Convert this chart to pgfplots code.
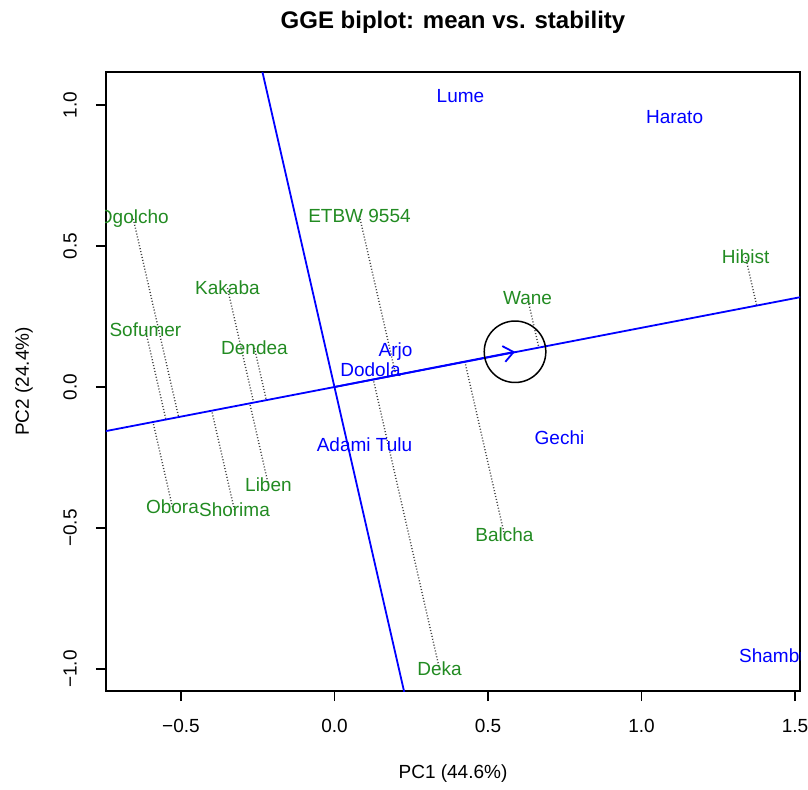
\documentclass[border=0pt]{standalone}
\usepackage{pgfplots}
\pgfplotsset{compat=1.18}
\usepackage{fontspec}
\setmainfont{Liberation Sans}
\usetikzlibrary{arrows.meta}
\definecolor{gen}{RGB}{34,139,34}
\definecolor{env}{RGB}{0,0,255}

\begin{document}
\begin{tikzpicture}
\begin{axis}[
  scale only axis, width=347pt, height=309.5pt,
  xmin=-0.744, xmax=1.516, ymin=-1.078, ymax=1.117,
  axis line style={line width=0.75pt},
  tick align=outside, xtick pos=bottom, ytick pos=left,
  major tick length=5pt,
  tick style={black, line width=0.6pt},
  xtick={-0.5,0,0.5,1,1.5}, xticklabels={−0.5,0.0,0.5,1.0,1.5},
  ytick={-1,-0.5,0,0.5,1}, yticklabels={−1.0,−0.5,0.0,0.5,1.0},
  ticklabel style={font=\fontsize{9.5}{11}\selectfont},
  yticklabel style={rotate=90, anchor=south},
  xticklabel shift=5.5pt, yticklabel shift=6pt,
  xlabel={PC1 (44.6\%)}, ylabel={PC2 (24.4\%)},
  label style={font=\fontsize{9.5}{11}\selectfont},
  xlabel style={at={([yshift=-41.5pt]axis description cs:0.5,0)}, anchor=center},
  ylabel style={at={([xshift=-41pt]axis description cs:0,0.5)}, anchor=center},
  title={GGE biplot: mean vs. stability},
  title style={at={(axis description cs:0.5,1)}, anchor=center, yshift=19pt, font=\bfseries\fontsize{12}{14}\selectfont},
  clip marker paths=true,
  unbounded coords=jump,
]
% projections of genotypes on the mean axis
\addplot[black!75, line width=0.7pt, dash pattern=on 0.5pt off 1pt] coordinates {
 (-0.655,0.596) (-0.50747,-0.10657) (nan,nan)
 (0.0814,0.606) (0.19985,0.04197) (nan,nan)
 (-0.3485,0.351) (-0.26318,-0.05527) (nan,nan)
 (-0.6156,0.2021) (-0.54896,-0.11528) (nan,nan)
 (-0.2606,0.1383) (-0.22178,-0.04657) (nan,nan)
 (0.6287,0.3156) (0.66563,0.13978) (nan,nan)
 (1.3388,0.4610) (1.37499,0.28875) (nan,nan)
 (-0.2150,-0.3475) (-0.27582,-0.05792) (nan,nan)
 (-0.5277,-0.4255) (-0.59101,-0.12411) (nan,nan)
 (-0.3257,-0.4362) (-0.39969,-0.08393) (nan,nan)
 (0.5537,-0.5248) (0.42478,0.08920) (nan,nan)
 (0.3420,-1.0) (0.12642,0.02655)
};
% mean axis and its perpendicular
\addplot[env, line width=0.9pt] coordinates {(-0.76,-0.1596) (1.53,0.3213)};
\addplot[env, line width=0.9pt] coordinates {(-0.252,1.2) (0.252,-1.2)};
\addplot[env, line width=0.9pt, -{Straight Barb[length=5pt,width=8pt]}] coordinates {(0,0) (0.588,0.125)};
\draw[black, line width=0.75pt] (axis cs:0.588,0.125) ellipse [x radius=0.1003, y radius=0.109];
% genotype labels
\addplot[only marks, mark=*, mark size=0pt, mark options={draw=none, fill=none},
  nodes near coords={\pgfplotspointmeta}, point meta=explicit symbolic,
  every node near coord/.append style={anchor=center, inner sep=0pt, text=gen, font=\fontsize{9.5}{11}\selectfont}]
  table[col sep=comma, meta=label] {
x,y,label
-0.655,0.596,Ogolcho
0.0814,0.606,ETBW 9554
-0.3485,0.351,Kakaba
-0.6156,0.2021,Sofumer
-0.2606,0.1383,Dendea
0.6287,0.3156,Wane
1.3388,0.4610,Hibist
-0.2150,-0.3475,Liben
-0.5277,-0.4255,Obora
-0.3257,-0.4362,Shorima
0.5537,-0.5248,Balcha
0.3420,-1.0,Deka
};
% environment labels
\addplot[only marks, mark=*, mark size=0pt, mark options={draw=none, fill=none},
  nodes near coords={\pgfplotspointmeta}, point meta=explicit symbolic,
  every node near coord/.append style={anchor=center, inner sep=0pt, text=env, font=\fontsize{9.5}{11}\selectfont}]
  table[col sep=comma, meta=label] {
x,y,label
0.4104,1.0319,Lume
1.1075,0.9574,Harato
0.1987,0.1241,Arjo
0.1173,0.0603,Dodola
0.0977,-0.2057,Adami Tulu
0.7329,-0.1809,Gechi
1.4332,-0.9539,Shambu
};
\end{axis}
\pgfresetboundingbox
\useasboundingbox ([xshift=-53pt,yshift=-49pt]current axis.south west) rectangle ([xshift=4pt,yshift=36pt]current axis.north east);
\end{tikzpicture}
\end{document}
